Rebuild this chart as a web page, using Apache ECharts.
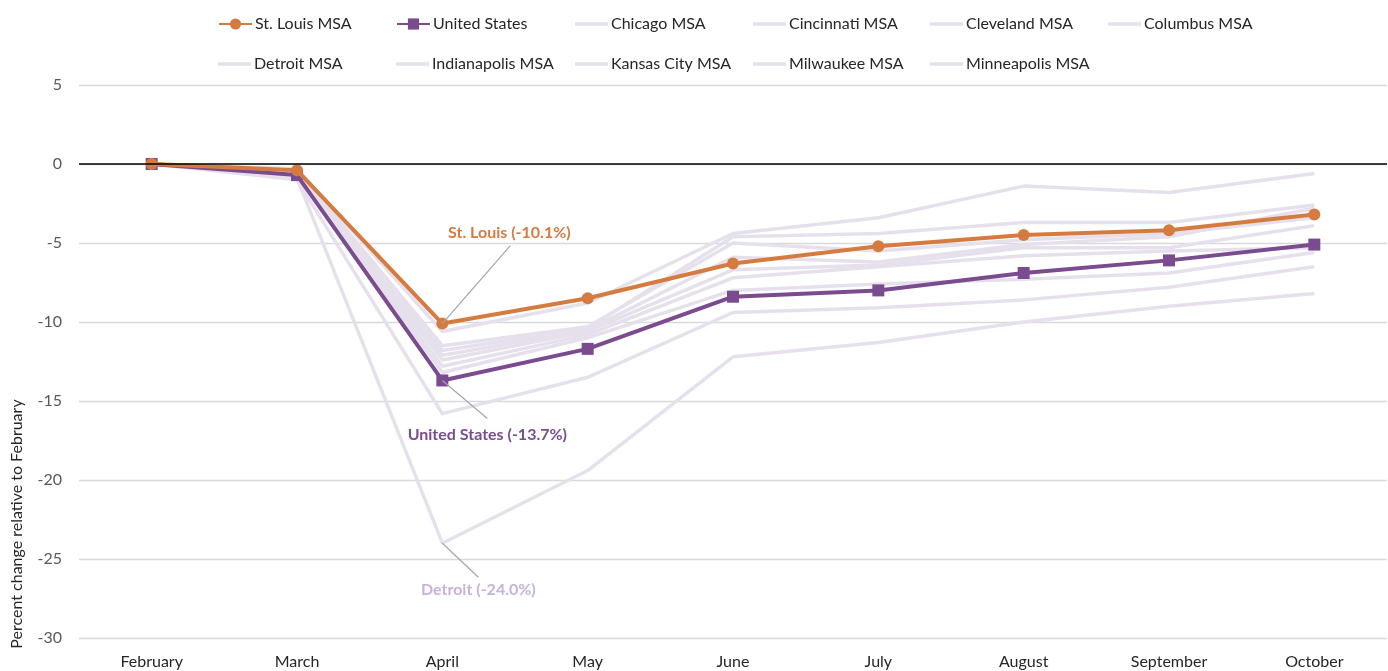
<!DOCTYPE html>
<html>
<head>
<meta charset="utf-8">
<script src="https://cdn.jsdelivr.net/npm/echarts@6/dist/echarts.min.js"></script>
<style>html,body{margin:0;padding:0;background:#fff}#c{width:1388px;height:671px}</style>
</head>
<body>
<div id="c"></div>
<script>
var months = ['February','March','April','May','June','July','August','September','October'];
var yTicks = [-30, -25, -20, -15, -10, -5, 0, 5];
var stLouis = [0, -0.4, -10.1, -8.5, -6.3, -5.2, -4.5, -4.2, -3.2];
var unitedStates = [0, -0.7, -13.7, -11.7, -8.4, -8.0, -6.9, -6.1, -5.1];
var chicago = [0, -0.8, -12.8, -10.8, -7.2, -6.5, -5.8, -5.5, -5.3];
var cincinnati = [0, -0.5, -11.8, -10.4, -4.6, -4.4, -3.7, -3.7, -2.6];
var cleveland = [0, -0.6, -13.2, -11.0, -8.0, -7.6, -7.3, -6.9, -5.6];
var columbus = [0, -0.6, -12.1, -10.5, -5.9, -6.2, -5.1, -4.6, -2.8];
var detroit = [0, -0.9, -24.0, -19.4, -12.2, -11.3, -10.0, -9.0, -8.2];
var indianapolis = [0, -0.4, -11.5, -10.3, -5.0, -5.5, -4.8, -4.4, -3.4];
var kansasCity = [0, -0.3, -10.6, -8.8, -4.4, -3.4, -1.4, -1.8, -0.6];
var milwaukee = [0, -1.0, -15.8, -13.5, -9.4, -9.1, -8.6, -7.8, -6.5];
var minneapolis = [0, -0.7, -12.4, -10.6, -6.7, -6.4, -5.3, -5.3, -3.9];

var names = ['St. Louis MSA','United States','Chicago MSA','Cincinnati MSA','Cleveland MSA','Columbus MSA','Detroit MSA','Indianapolis MSA','Kansas City MSA','Milwaukee MSA','Minneapolis MSA'];
var faint = [
  ['Chicago MSA', chicago], ['Cincinnati MSA', cincinnati], ['Cleveland MSA', cleveland],
  ['Columbus MSA', columbus], ['Detroit MSA', detroit], ['Indianapolis MSA', indianapolis],
  ['Kansas City MSA', kansasCity], ['Milwaukee MSA', milwaukee], ['Minneapolis MSA', minneapolis]
];

var FONT = 'Lato';
var ORANGE = '#D67B40';
var PURPLE = '#7B4B8F';
var FAINT = '#E6E0EC';

var legendLeft = [218, 396, 575, 753, 930, 1108, 218, 396, 575, 753, 930];
var legendTop = [16, 16, 16, 16, 16, 16, 56, 56, 56, 56, 56];
var legends = names.map(function (n, i) {
  var isMain = i < 2;
  return {
    data: [isMain ? n : { name: n, icon: 'rect' }], left: legendLeft[i], top: legendTop[i],
    itemWidth: 33, itemHeight: isMain ? 14 : 3.5, itemGap: 0, padding: 0,
    selectedMode: false,
    textStyle: { fontFamily: FONT, fontSize: 16, color: '#262626', padding: [0, 0, 0, -2] }
  };
});

var series = faint.map(function (f) {
  return {
    name: f[0], type: 'line', data: f[1], symbol: 'none',
    lineStyle: { color: FAINT, width: 3.5 }, itemStyle: { color: FAINT },
    z: 1, silent: true
  };
});
series[0].markLine = {
  silent: true, symbol: 'none', label: { show: false },
  lineStyle: { color: '#000', width: 1.5, type: 'solid' },
  data: [{ yAxis: 0 }]
};
series.push({
  name: 'United States', type: 'line', data: unitedStates,
  symbol: 'rect', symbolSize: 12,
  lineStyle: { color: PURPLE, width: 4 }, itemStyle: { color: PURPLE },
  z: 3
});
series.push({
  name: 'St. Louis MSA', type: 'line', data: stLouis,
  symbol: 'circle', symbolSize: 12,
  lineStyle: { color: ORANGE, width: 4 }, itemStyle: { color: ORANGE },
  z: 4
});

var chart = echarts.init(document.getElementById('c'), null, { renderer: 'canvas' });
chart.setOption({
  animation: false,
  backgroundColor: '#fff',
  legend: legends,
  grid: { left: 79, right: 1, top: 85, bottom: 33, containLabel: false },
  xAxis: {
    type: 'category', data: months, boundaryGap: true,
    axisLine: { show: false }, axisTick: { show: false },
    axisLabel: { fontFamily: FONT, fontSize: 16, color: '#262626', margin: 16 }
  },
  yAxis: {
    type: 'value', min: yTicks[0], max: yTicks[yTicks.length - 1], interval: 5,
    axisLine: { show: false }, axisTick: { show: false },
    axisLabel: { fontFamily: FONT, fontSize: 16, color: '#595959', margin: 17 },
    splitLine: { lineStyle: { color: '#D9D9D9', width: 1.3 } }
  },
  series: series
});

function annot(cat, val, ldx, ldy, tdx, tdy, text, color) {
  var p = chart.convertToPixel({ gridIndex: 0 }, [cat, val]);
  return [
    { type: 'line', silent: true, z: 10,
      shape: { x1: p[0], y1: p[1], x2: p[0] + ldx, y2: p[1] + ldy },
      style: { stroke: '#A6A6A6', lineWidth: 1.2 } },
    { type: 'text', silent: true, z: 10, x: p[0] + tdx, y: p[1] + tdy,
      style: { text: text, fill: color, font: 'bold 16px ' + FONT, textAlign: 'center', textVerticalAlign: 'middle' } }
  ];
}
var g = [];
g = g.concat(annot('April', stLouis[2], 68, -78, 67, -91, 'St. Louis (-10.1%)', ORANGE));
g = g.concat(annot('April', unitedStates[2], 45, 38, 45, 54, 'United States (-13.7%)', PURPLE));
g = g.concat(annot('April', detroit[2], 36, 34, 36, 47, 'Detroit (-24.0%)', '#C7B2DA'));
g.push({
  type: 'text', silent: true, x: 17, y: 524, rotation: Math.PI / 2,
  style: { text: 'Percent change relative to February', fill: '#262626', font: '16px ' + FONT, textAlign: 'center', textVerticalAlign: 'middle' }
});
chart.setOption({ graphic: g });
</script>
</body>
</html>
